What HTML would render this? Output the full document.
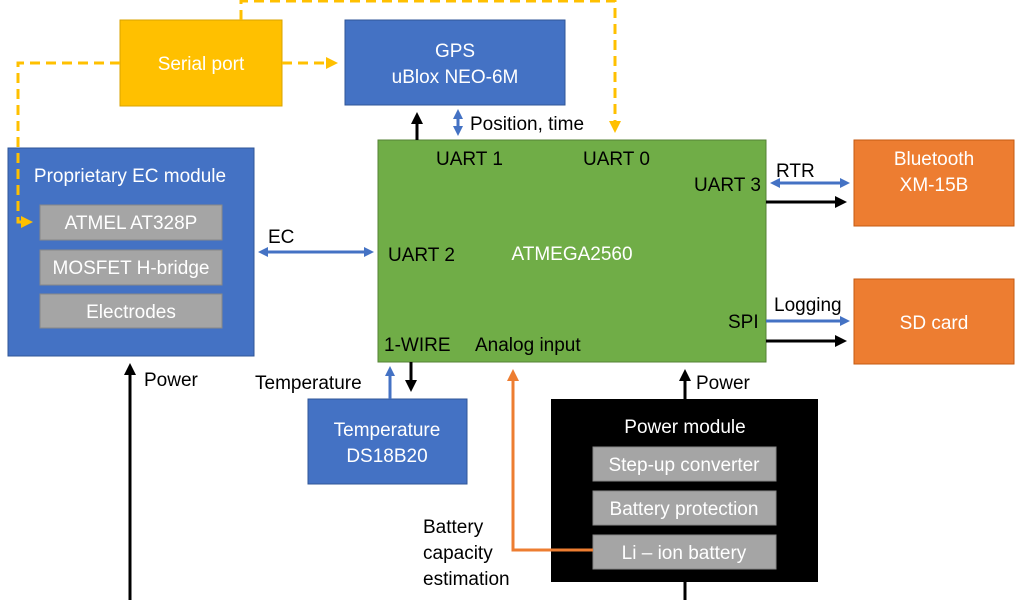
<!DOCTYPE html>
<html><head><style>
body{margin:0;width:1024px;height:600px;overflow:hidden;background:#fff;font-family:"Liberation Sans",sans-serif;}
</style></head><body>
<svg width="1024" height="600" viewBox="0 0 1024 600" xmlns="http://www.w3.org/2000/svg" font-family="Liberation Sans, sans-serif">
<defs>
<marker id="ab" markerWidth="10" markerHeight="10" refX="7" refY="5" orient="auto-start-reverse" markerUnits="userSpaceOnUse"><path d="M0,0 L10,5 L0,10 z" fill="#4472c4"/></marker>
<marker id="ak" markerWidth="12" markerHeight="12" refX="9" refY="6" orient="auto" markerUnits="userSpaceOnUse"><path d="M0,0 L12,6 L0,12 z" fill="#000"/></marker>
<marker id="ay" markerWidth="12" markerHeight="12" refX="9" refY="6" orient="auto" markerUnits="userSpaceOnUse"><path d="M0,0 L12,6 L0,12 z" fill="#ffc000"/></marker>
<marker id="ao" markerWidth="12" markerHeight="12" refX="9" refY="6" orient="auto" markerUnits="userSpaceOnUse"><path d="M0,0 L12,6 L0,12 z" fill="#ed7d31"/></marker>
</defs>
<g font-size="19">
<rect x="120" y="20" width="162" height="86" fill="#ffc000" stroke="#d9a300"/>
<text x="201" y="70" fill="#fff" text-anchor="middle">Serial port</text>
<rect x="345" y="20" width="220" height="85" fill="#4472c4" stroke="#2f5597"/>
<text x="455" y="57" fill="#fff" text-anchor="middle">GPS</text>
<text x="455" y="83" fill="#fff" text-anchor="middle">uBlox NEO-6M</text>
<rect x="8" y="148" width="246" height="208" fill="#4472c4" stroke="#2f5597"/>
<text x="130" y="182" fill="#fff" text-anchor="middle">Proprietary EC module</text>
<rect x="40" y="205" width="182" height="35" fill="#a5a5a5" stroke="#888"/>
<text x="131" y="229" fill="#fff" text-anchor="middle">ATMEL AT328P</text>
<rect x="40" y="250" width="182" height="35" fill="#a5a5a5" stroke="#888"/>
<text x="131" y="274" fill="#fff" text-anchor="middle">MOSFET H-bridge</text>
<rect x="40" y="294" width="182" height="34" fill="#a5a5a5" stroke="#888"/>
<text x="131" y="318" fill="#fff" text-anchor="middle">Electrodes</text>
<rect x="378" y="140" width="388" height="222" fill="#70ad47" stroke="#548235"/>
<g fill="#000">
<text x="436" y="165">UART 1</text>
<text x="583" y="165">UART 0</text>
<text x="694" y="191">UART 3</text>
<text x="388" y="261">UART 2</text>
<text x="728" y="328">SPI</text>
<text x="384" y="351">1-WIRE</text>
<text x="475" y="351">Analog input</text>
</g>
<text x="572" y="260" fill="#fff" text-anchor="middle">ATMEGA2560</text>
<rect x="854" y="140" width="160" height="86" fill="#ed7d31" stroke="#c55a11"/>
<text x="934" y="165" fill="#fff" text-anchor="middle">Bluetooth</text>
<text x="934" y="191" fill="#fff" text-anchor="middle">XM-15B</text>
<rect x="854" y="279" width="160" height="85" fill="#ed7d31" stroke="#c55a11"/>
<text x="934" y="329" fill="#fff" text-anchor="middle">SD card</text>
<rect x="308" y="399" width="159" height="85" fill="#4472c4" stroke="#2f5597"/>
<text x="387" y="436" fill="#fff" text-anchor="middle">Temperature</text>
<text x="387" y="462" fill="#fff" text-anchor="middle">DS18B20</text>
<rect x="551" y="399" width="267" height="183" fill="#000"/>
<text x="685" y="433" fill="#fff" text-anchor="middle">Power module</text>
<rect x="593" y="447" width="183" height="34" fill="#a5a5a5" stroke="#888"/>
<text x="684" y="471" fill="#fff" text-anchor="middle">Step-up converter</text>
<rect x="593" y="491" width="183" height="34" fill="#a5a5a5" stroke="#888"/>
<text x="684" y="515" fill="#fff" text-anchor="middle">Battery protection</text>
<rect x="593" y="535" width="183" height="34" fill="#a5a5a5" stroke="#888"/>
<text x="684" y="559" fill="#fff" text-anchor="middle">Li – ion battery</text>
</g>
<g stroke="#ffc000" stroke-width="3" fill="none" stroke-dasharray="10,6">
<polyline points="241,20 241,1 615,1 615,130" marker-end="url(#ay)"/>
<polyline points="120,63 18,63 18,222 30,222" marker-end="url(#ay)"/>
<line x1="282" y1="63" x2="335" y2="63" marker-end="url(#ay)"/>
</g>
<g stroke="#000" stroke-width="3" fill="none">
<line x1="417" y1="140" x2="417" y2="115" marker-end="url(#ak)"/>
<line x1="766" y1="202" x2="844" y2="202" marker-end="url(#ak)"/>
<line x1="766" y1="341" x2="844" y2="341" marker-end="url(#ak)"/>
<line x1="411" y1="362" x2="411" y2="389" marker-end="url(#ak)"/>
<line x1="685" y1="399" x2="685" y2="372" marker-end="url(#ak)"/>
<line x1="685" y1="582" x2="685" y2="600"/>
<line x1="130" y1="600" x2="130" y2="366" marker-end="url(#ak)"/>
</g>
<g stroke="#4472c4" stroke-width="3" fill="none">
<line x1="458" y1="112" x2="458" y2="133" marker-start="url(#ab)" marker-end="url(#ab)"/>
<line x1="261" y1="252" x2="371" y2="252" marker-start="url(#ab)" marker-end="url(#ab)"/>
<line x1="773" y1="183" x2="847" y2="183" marker-start="url(#ab)" marker-end="url(#ab)"/>
<line x1="766" y1="321" x2="847" y2="321" marker-end="url(#ab)"/>
<line x1="390" y1="399" x2="390" y2="369" marker-end="url(#ab)"/>
</g>
<polyline points="593,550 513,550 513,372" stroke="#ed7d31" stroke-width="3" fill="none" marker-end="url(#ao)"/>
<g font-size="19" fill="#000">
<text x="470" y="130">Position, time</text>
<text x="268" y="243">EC</text>
<text x="776" y="177">RTR</text>
<text x="774" y="311">Logging</text>
<text x="255" y="389">Temperature</text>
<text x="696" y="389">Power</text>
<text x="144" y="386">Power</text>
<text x="423" y="533">Battery</text>
<text x="423" y="559">capacity</text>
<text x="423" y="585">estimation</text>
</g>
</svg>
</body></html>
